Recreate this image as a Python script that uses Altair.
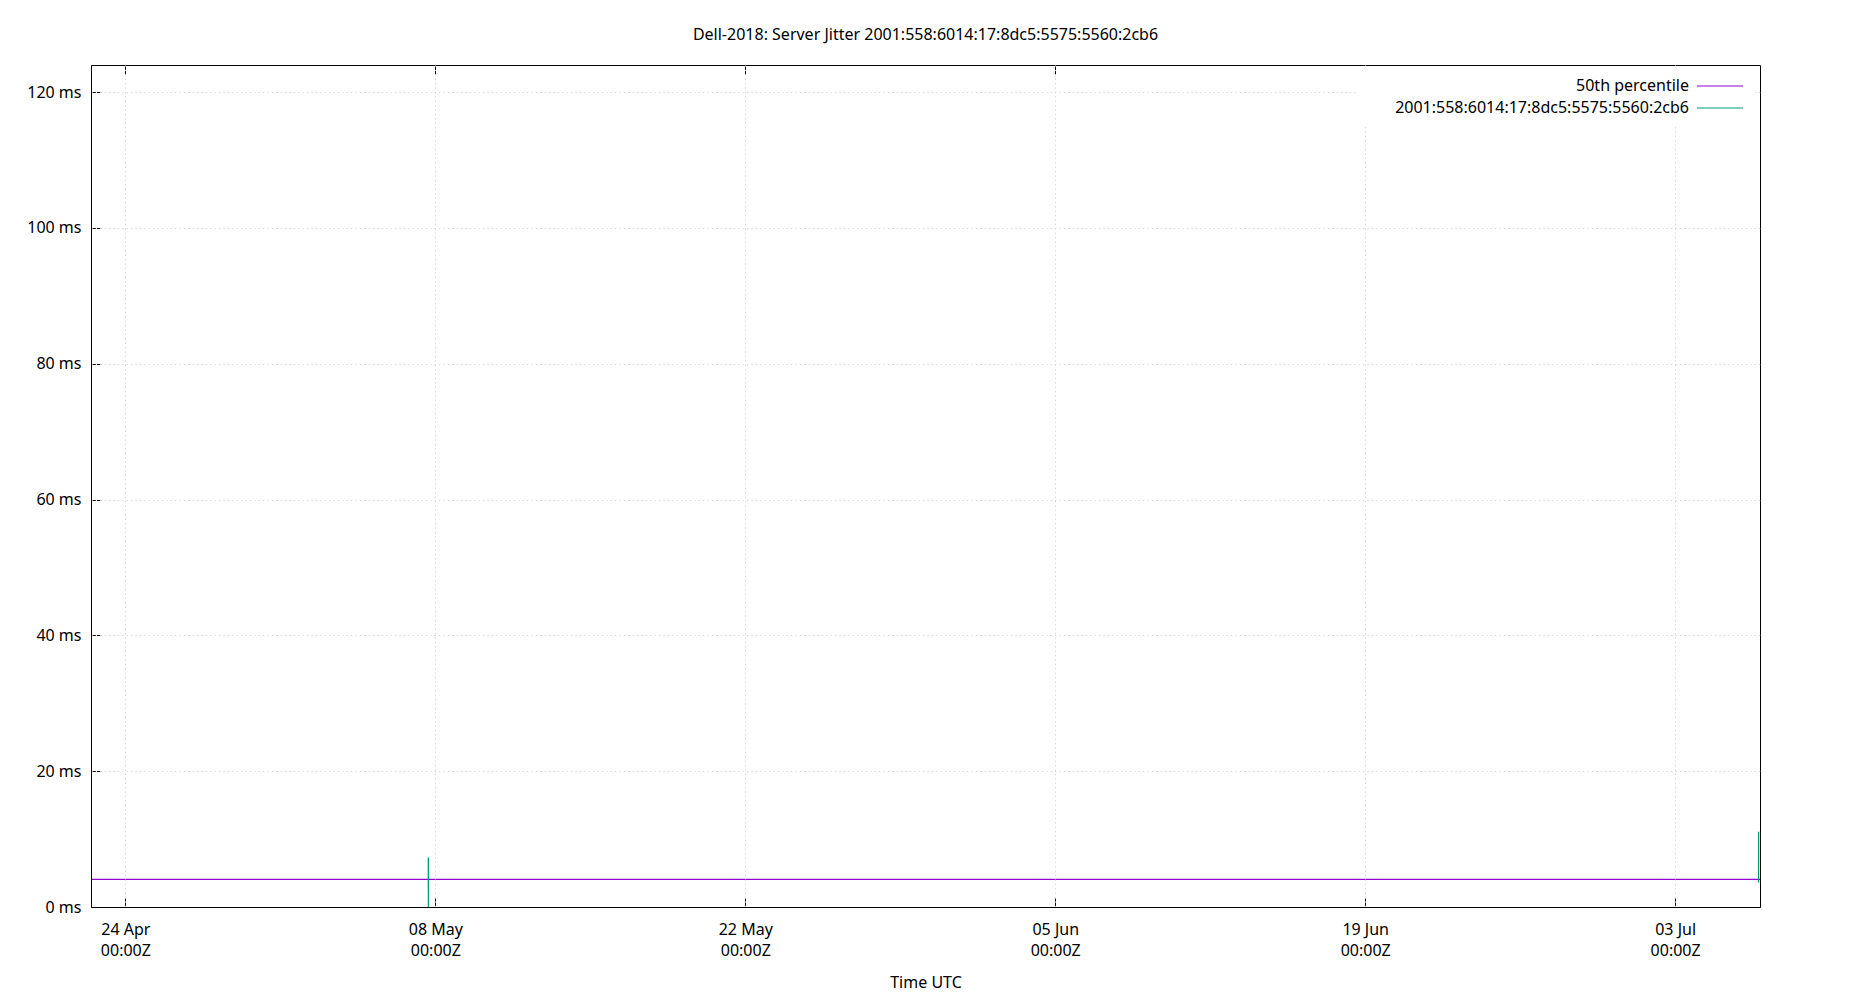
import altair as alt
import pandas as pd

TITLE = "Dell-2018: Server Jitter 2001:558:6014:17:8dc5:5575:5560:2cb6"
SERIES = ["50th percentile", "2001:558:6014:17:8dc5:5575:5560:2cb6"]
COLORS = ["#9400d3", "#009e73"]

X_START = "2023-04-22T10:45:00Z"
X_END = "2023-07-06T20:00:00Z"
TICK_DATES = ["2023-04-24", "2023-05-08", "2023-05-22", "2023-06-05", "2023-06-19", "2023-07-03"]
Y_TICKS = [0, 20, 40, 60, 80, 100, 120]
Y_MAX = 124.0

# median line
MEDIAN_TIMES = [X_START, X_END]
MEDIAN_MS = [4.07, 4.07]

# jitter samples, broken into separate runs
JITTER_TIMES = [
    "2023-04-22T11:00:00Z", "2023-04-22T11:05:00Z",
    "2023-05-07T16:25:00Z", "2023-05-07T16:30:00Z",
    "2023-07-06T18:25:00Z", "2023-07-06T18:30:00Z",
]
JITTER_MS = [124.0, 15.3, 7.3, 0.0, 3.6, 11.1]
JITTER_RUN = [1, 1, 2, 2, 3, 3]


def to_ms(s):
    ts = pd.Timestamp(s)
    if ts.tzinfo is None:
        ts = ts.tz_localize("UTC")
    return int(ts.value // 10**6)


tick_ms = [to_ms(d) for d in TICK_DATES]
x_domain = [to_ms(X_START), to_ms(X_END)]

median = pd.DataFrame({"time": MEDIAN_TIMES, "ms": MEDIAN_MS, "series": SERIES[0]})
jitter = pd.DataFrame({"time": JITTER_TIMES, "ms": JITTER_MS, "run": JITTER_RUN, "series": SERIES[1]})

x_scale = alt.Scale(type="utc", domain=x_domain)
y_scale = alt.Scale(domain=[0, Y_MAX], nice=False)

# gnuplot style key: right-aligned label, then the line sample on its right.
# the leading moveTo pins the entry's left edge at 0 so the white box fits
key_sample = "M-1,0M31.9,0H36.5"
color = alt.Color(
    "series:N",
    scale=alt.Scale(domain=SERIES, range=COLORS),
    legend=alt.Legend(
        title=None, orient="none", legendX=1267, legendY=1, padding=9,
        fillColor="white", zindex=2, symbolType=key_sample, symbolSize=400,
        symbolStrokeWidth=1.2, labelAlign="right", labelOffset=300,
        symbolOffset=0, labelLimit=400, rowPadding=3,
    ),
)

main_x = alt.Axis(
    values=tick_ms,
    labelExpr="[utcFormat(datum.value, '%d %b'), utcFormat(datum.value, '%H:%MZ')]",
    ticks=False, tickSize=0, labelPadding=14, labelLineHeight=21,
    labelFlush=False, labelOverlap=False, title="Time UTC", titlePadding=16,
    grid=True, domain=True, zindex=1,
)
main_y = alt.Axis(
    values=Y_TICKS, labelExpr="datum.value + ' ms'", ticks=False, tickSize=0,
    labelPadding=10, title=None, grid=True, domain=True, zindex=1,
)


def tick_axis(orient, vals):
    return alt.Axis(
        orient=orient, values=vals, offset=-9, tickSize=9, ticks=True,
        labels=False, grid=False, domain=False, title=None,
    )


median_line = alt.Chart(median).mark_line(strokeWidth=1.2, clip=True).encode(
    x=alt.X("time:T", scale=x_scale, axis=main_x),
    y=alt.Y("ms:Q", scale=y_scale, axis=main_y),
    color=color,
)
jitter_line = alt.Chart(jitter).mark_line(strokeWidth=1.3, clip=True).encode(
    x=alt.X("time:T", scale=x_scale, axis=tick_axis("bottom", tick_ms)),
    y=alt.Y("ms:Q", scale=y_scale, axis=tick_axis("left", Y_TICKS)),
    color=color,
    detail="run:N",
)
top_ticks = alt.Chart(median).mark_line(opacity=0).encode(
    x=alt.X("time:T", scale=x_scale, axis=tick_axis("top", tick_ms)),
    y=alt.Y("ms:Q", scale=y_scale, axis=None),
)

chart = (
    alt.layer(median_line, jitter_line, top_ticks)
    .resolve_axis(x="independent", y="independent")
    .properties(
        width=1669, height=842,
        autosize=alt.AutoSizeParams(type="none"),
        padding={"left": 83, "top": 57, "right": 40, "bottom": 84},
        title=alt.TitleParams(
            TITLE, font="Noto Sans", fontSize=16, fontWeight="normal",
            color="black", anchor="middle", offset=22,
        ),
    )
    .configure_view(stroke="black", strokeWidth=1)
    .configure_axis(
        labelFont="Noto Sans", labelFontSize=16, labelColor="black",
        titleFont="Noto Sans", titleFontSize=16, titleFontWeight="normal",
        titleColor="black", domainColor="black", tickColor="black",
        gridColor="#d2d2d2", gridDash=[1.2, 3.2], gridWidth=1,
    )
    .configure_legend(labelFont="Noto Sans", labelFontSize=16, labelColor="black")
)

chart.save("out.html", embed_options={"renderer": "svg", "actions": False})
